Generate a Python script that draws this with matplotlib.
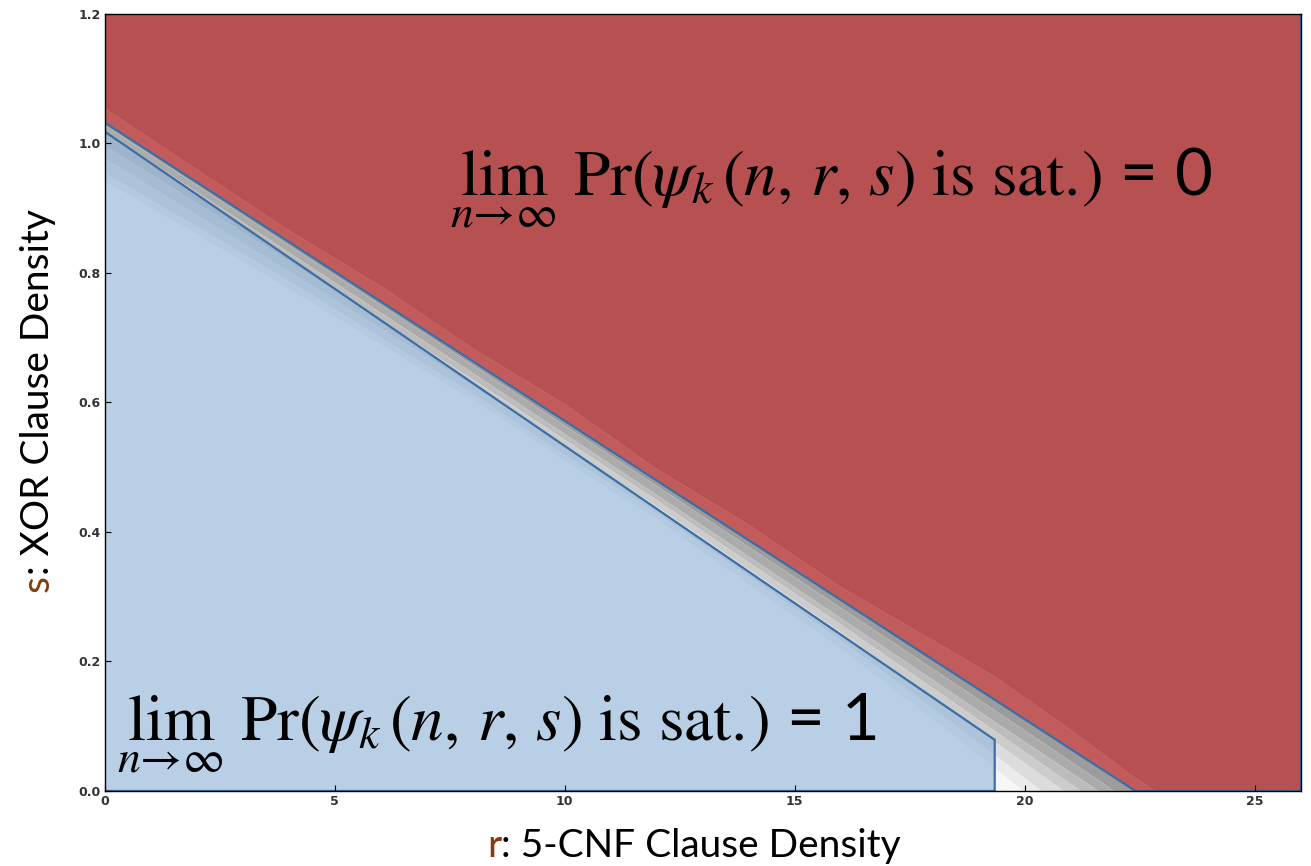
import numpy as np
import matplotlib
matplotlib.use('Agg')
import matplotlib.pyplot as plt
from matplotlib.patches import Polygon

plt.rcParams['mathtext.fontset'] = 'stix'

# phase boundaries in (r, s)
upper_r = [0.0, 22.41]
upper_s = [1.032, 0.0]
lower_r = [0.0, 19.35, 19.35]
lower_s = [1.018, 0.079, 0.0]

# empirical transition bands: offset of each band edge below the upper boundary
knot_r = [0, 2, 4, 6, 8, 10, 12, 14, 16, 18, 19.35, 21, 22.4, 26]
edge_offsets = [
    [-0.022, -0.020, -0.018, -0.024, -0.020, -0.026, -0.018, -0.024, -0.020, -0.030, -0.036, -0.030, -0.020, -0.020],
    [0.004, 0.004, 0.005, 0.005, 0.006, 0.007, 0.008, 0.010, 0.012, 0.014, 0.016, 0.019, 0.022, 0.022],
    [0.014, 0.015, 0.016, 0.017, 0.018, 0.020, 0.022, 0.025, 0.028, 0.031, 0.034, 0.036, 0.038, 0.038],
    [0.035, 0.032, 0.030, 0.029, 0.028, 0.029, 0.030, 0.034, 0.038, 0.044, 0.048, 0.054, 0.058, 0.058],
    [0.055, 0.050, 0.045, 0.041, 0.038, 0.039, 0.040, 0.045, 0.050, 0.058, 0.065, 0.072, 0.077, 0.077],
    [0.078, 0.068, 0.060, 0.055, 0.050, 0.052, 0.050, 0.056, 0.062, 0.075, 0.085, 0.100, 0.111, 0.111],
    [0.090, 0.080, 0.072, 0.066, 0.060, 0.062, 0.060, 0.068, 0.075, 0.092, 0.105, 0.125, 0.139, 0.139],
]
band_colors = ['#787878', '#9c9c9c', '#ababab', '#bcbcbc', '#cccccc',
               '#dcdcdc', '#ebebeb', '#f7f7f7']

x_ticks = [0, 5, 10, 15, 20, 25]
y_ticks = [0.0, 0.2, 0.4, 0.6, 0.8, 1.0, 1.2]

fig = plt.figure(figsize=(13.11, 8.66), dpi=100)
ax = fig.add_axes([0.080, 0.0866, 0.912, 0.8974])

kr = np.array(knot_r)
slope = (upper_s[1] - upper_s[0]) / (upper_r[1] - upper_r[0])
s_up = upper_s[0] + slope * (kr - upper_r[0])

# gray probability bands
edges = [np.full(len(kr), 1.3)] + [s_up - np.array(o) for o in edge_offsets] + [np.full(len(kr), -0.2)]
for i, c in enumerate(band_colors):
    ax.fill_between(kr, edges[i + 1], edges[i], color=c, lw=0, zorder=0)

line_col = '#3b6ea5'
# unsat region
red_pts = [(0, 1.2), (26, 1.2), (26, 0), (upper_r[1], upper_s[1]), (upper_r[0], upper_s[0])]
ax.add_patch(Polygon(red_pts, closed=True, facecolor=(211/255, 64/255, 64/255, 0.7),
                     edgecolor=line_col, lw=1.6, zorder=1))
# sat region
blue_pts = [(0, 0)] + list(zip(lower_r, lower_s))
ax.add_patch(Polygon(blue_pts, closed=True, facecolor=(133/255, 175/255, 217/255, 0.55),
                     edgecolor=line_col, lw=1.6, zorder=1))

ax.set_xlim(0, 26)
ax.set_ylim(0, 1.2)
ax.set_xticks(x_ticks)
ax.set_yticks(y_ticks)
ax.set_yticklabels(['%.1f' % v for v in y_ticks])
ax.tick_params(direction='in', length=4, width=0.8, labelsize=9, labelcolor='#333333', pad=3)
for lab in ax.get_xticklabels() + ax.get_yticklabels():
    lab.set_fontweight('bold')
for sp in ax.spines.values():
    sp.set_color('black')
    sp.set_linewidth(1.0)

lim_txt = r'$\lim_{n\to\infty}\ \mathrm{Pr}(\psi_k(n,\,r,\,s)\ \mathrm{is\ sat.}\!)$'
ax.text(450 / 1311, 1 - 195 / 866, lim_txt + ' = 0', transform=fig.transFigure,
        fontsize=47, family='Lato', va='baseline', ha='left', zorder=5)
ax.text(117 / 1311, 1 - 740 / 866, lim_txt + ' = 1', transform=fig.transFigure,
        fontsize=47, family='Lato', va='baseline', ha='left', zorder=5)

brown = '#843c0c'
t1 = fig.text(487 / 1311, 1 - 864 / 866, 'r', fontsize=28, family='Lato', color=brown,
              va='bottom', ha='left')
ax.annotate(': 5-CNF Clause Density', xy=(1, 0), xycoords=t1, fontsize=28, family='Lato',
            va='bottom', ha='left', annotation_clip=False)

t2 = fig.text(20 / 1311, 1 - 592 / 866, 's', fontsize=28, family='Lato', color=brown,
              va='bottom', ha='left', rotation=90)
ax.annotate(': XOR Clause Density', xy=(0.5, 1), xycoords=t2, fontsize=28, family='Lato',
            va='bottom', ha='center', rotation=90, annotation_clip=False)

fig.savefig('out.png', dpi=100)
